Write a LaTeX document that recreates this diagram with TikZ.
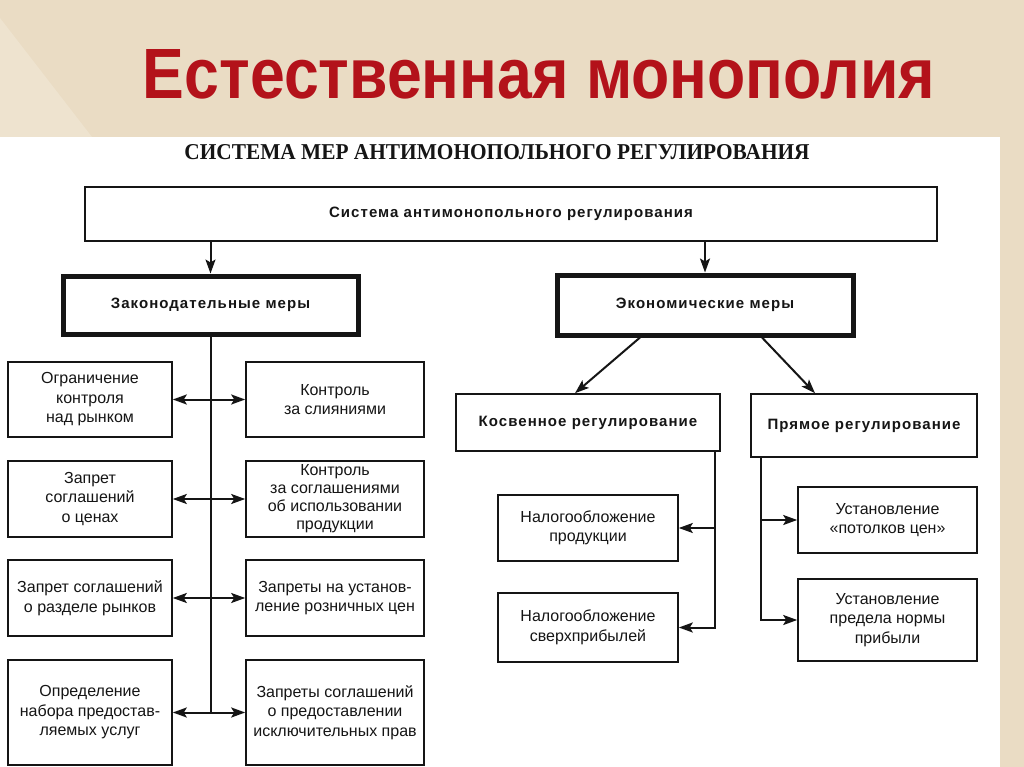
\documentclass[tikz,border=0pt]{standalone}
\usepackage{fontspec}
\setmainfont{Liberation Sans}
\newfontfamily\serifcond{Liberation Serif}
\newfontfamily\boldsp[LetterSpace=7]{Liberation Sans}
\usetikzlibrary{arrows.meta}
\definecolor{beige}{HTML}{EADCC4}
\definecolor{beigelight}{HTML}{EEE3CF}
\definecolor{titlered}{HTML}{B3121A}
\definecolor{ink}{HTML}{151515}
\begin{document}
\begin{tikzpicture}[x=1pt,y=-1pt,
  box/.style={draw=ink, line width=1.6pt, inner sep=0pt, align=center, text=ink,
    font=\fontsize{16}{19.5}\selectfont},
  headbox/.style={box, font=\boldsp\bfseries\fontsize{15}{18}\selectfont},
  thickbox/.style={headbox, line width=5pt},
  conn/.style={draw=ink, line width=2pt},
  tip/.tip={Stealth[length=14pt,width=10pt,inset=3pt]},
  arr/.style={conn, -tip},
  darr/.style={conn, tip-tip}
]
% background
\useasboundingbox (0,0) rectangle (1024,767);
\fill[beige] (0,0) rectangle (1024,767);
\fill[beigelight] (0,18) -- (92,137) -- (0,137) -- cycle;
\fill[white] (0,137) rectangle (1000,767);

% titles
\node[text=titlered, inner sep=0pt, anchor=base] (title) at (539,99)
  {\resizebox{792pt}{49pt}{\bfseries Естественная монополия}};
\node[text=ink, inner sep=0pt, anchor=base] (subtitle) at (497,160)
  {\resizebox{625pt}{15pt}{\serifcond\bfseries СИСТЕМА МЕР АНТИМОНОПОЛЬНОГО РЕГУЛИРОВАНИЯ}};

% top level
\node[headbox, minimum width=852, minimum height=54] (top) at (511,214)
  {Система антимонопольного регулирования};
\node[thickbox, minimum width=295, minimum height=58] (zak) at (210.5,305)
  {Законодательные меры};
\node[thickbox, minimum width=296, minimum height=60] (econ) at (705,305)
  {Экономические меры};
\node[headbox, minimum width=264, minimum height=57] (kos) at (588,422.5)
  {Косвенное регулирование};
\node[headbox, minimum width=226, minimum height=63] (pry) at (864,425.5)
  {Прямое регулирование};

% left column
\node[box, minimum width=164, minimum height=75] (l1) at (90,399.5)
  {Ограничение\\контроля\\над рынком};
\node[box, minimum width=164, minimum height=76] (l2) at (90,499)
  {Запрет\\соглашений\\о ценах};
\node[box, minimum width=164, minimum height=76] (l3) at (90,598)
  {Запрет соглашений\\о разделе рынков};
\node[box, minimum width=164, minimum height=105] (l4) at (90,712.5)
  {Определение\\набора предостав-\\ляемых услуг};

% right column
\node[box, minimum width=178, minimum height=75] (r1) at (335,399.5)
  {Контроль\\за слияниями};
\node[box, minimum width=178, minimum height=76, font=\fontsize{16}{18}\selectfont] (r2) at (335,499)
  {Контроль\\за соглашениями\\об использовании\\продукции};
\node[box, minimum width=178, minimum height=76] (r3) at (335,598)
  {Запреты на установ-\\ление розничных цен};
\node[box, minimum width=178, minimum height=105] (r4) at (335,712.5)
  {Запреты соглашений\\о предоставлении\\исключительных прав};

% economic sub-boxes
\node[box, minimum width=180, minimum height=66] (n1) at (588,528)
  {Налогообложение\\продукции};
\node[box, minimum width=180, minimum height=69] (n2) at (588,627.5)
  {Налогообложение\\сверхприбылей};
\node[box, minimum width=179, minimum height=66] (u1) at (887.5,520)
  {Установление\\«потолков цен»};
\node[box, minimum width=179, minimum height=82] (u2) at (887.5,620)
  {Установление\\предела нормы\\прибыли};

% connectors
\draw[arr] (zak.north |- top.south) -- (zak.north);
\draw[arr] (econ.north |- top.south) -- (econ.north);

\coordinate (zend) at (zak.south |- l4.east);
\draw[conn] (zak.south) -- (zend);
\draw[darr] (l1.east) -- (r1.west);
\draw[darr] (l2.east) -- (r2.west);
\draw[darr] (l3.east) -- (r3.west);
\draw[darr] (l4.east) -- (r4.west);

\draw[arr] ([xshift=-65pt]econ.south) -- ([xshift=-13pt]kos.north);
\draw[arr] ([xshift=57pt]econ.south) -- ([xshift=-49pt]pry.north);

\draw[arr] ([xshift=-6pt]kos.south east) |- (n1.east);
\draw[arr] ([xshift=-6pt]kos.south east) |- (n2.east);
\draw[arr] ([xshift=11pt]pry.south west) |- (u1.west);
\draw[arr] ([xshift=11pt]pry.south west) |- (u2.west);
\end{tikzpicture}
\end{document}
